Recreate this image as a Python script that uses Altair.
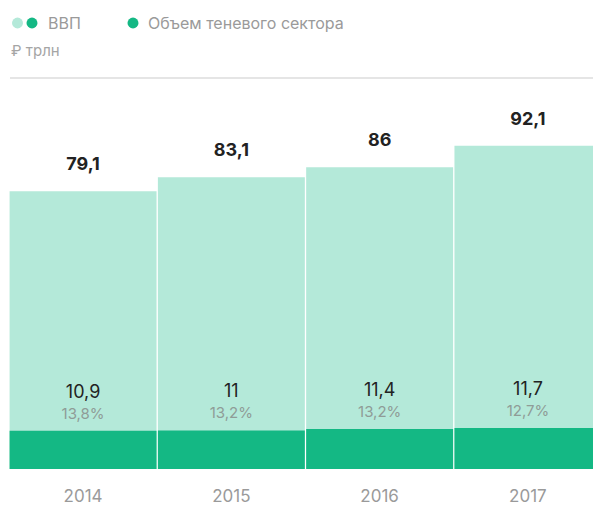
import altair as alt
import pandas as pd

years = ["2014", "2015", "2016", "2017"]
gdp = [79.1, 83.1, 86.0, 92.1]
shadow = [10.9, 11.0, 11.4, 11.7]
gdp_labels = ["79,1", "83,1", "86", "92,1"]
shadow_labels = ["10,9", "11", "11,4", "11,7"]
share_labels = ["13,8%", "13,2%", "13,2%", "12,7%"]

LIGHT = "#b4e9d9"
DARK = "#14b884"
FONT = "Inter"

df = pd.DataFrame({
    "year": years, "gdp": gdp, "shadow": shadow,
    "gdp_label": gdp_labels, "shadow_label": shadow_labels, "share_label": share_labels,
})

W, H = 584, 391
x = alt.X("year:N", title=None,
          scale=alt.Scale(range=[0, 593], paddingInner=0.009, paddingOuter=0.004),
          axis=alt.Axis(ticks=False, domain=False, labelAngle=0, labelPadding=19,
                        labelFontSize=17, labelColor="#9a9a9a", labelFont=FONT,
                        labelFontWeight="normal"))
yscale = alt.Scale(domain=[0, 111.4], nice=False, zero=True)

base = alt.Chart(df)
gdp_bar = base.mark_bar(color=LIGHT, clip=True).encode(
    x=x, y=alt.Y("gdp:Q", scale=yscale, axis=None))
sh_bar = base.mark_bar(color=DARK, clip=True).encode(
    x=x, y=alt.Y("shadow:Q", scale=yscale, axis=None))
gdp_txt = base.mark_text(font=FONT, fontSize=18, fontWeight="bold", color="#222222",
                         baseline="alphabetic", dy=-21).encode(
    x=x, y=alt.Y("gdp:Q", scale=yscale, axis=None), text="gdp_label:N")
sh_txt = base.mark_text(font=FONT, fontSize=18, color="#222222",
                        baseline="alphabetic", dy=-33).encode(
    x=x, y=alt.Y("shadow:Q", scale=yscale, axis=None), text="shadow_label:N")
share_txt = base.mark_text(font=FONT, fontSize=15, color="#8f9c97",
                           baseline="alphabetic", dy=-12).encode(
    x=x, y=alt.Y("shadow:Q", scale=yscale, axis=None), text="share_label:N")

deco = alt.Chart(alt.Data(values=[{}]))
top_rule = deco.mark_rule(color="#dcdcdc", strokeWidth=1.5).encode(
    x=alt.value(1), x2=alt.value(W), y=alt.value(0))
c1 = deco.mark_circle(color=LIGHT, size=120, opacity=1).encode(
    x=alt.value(8.5), y=alt.value(-55))
c2 = deco.mark_circle(color=DARK, size=120, opacity=1).encode(
    x=alt.value(23), y=alt.value(-55))
c3 = deco.mark_circle(color=DARK, size=120, opacity=1).encode(
    x=alt.value(124), y=alt.value(-55))
t1 = deco.mark_text(text="ВВП", font=FONT, fontSize=16, color="#9a9a9a",
                    align="left", baseline="middle").encode(
    x=alt.value(39), y=alt.value(-54))
t2 = deco.mark_text(text="Объем теневого сектора", font=FONT, fontSize=16, color="#9a9a9a",
                    align="left", baseline="middle").encode(
    x=alt.value(139), y=alt.value(-54))
t3 = deco.mark_text(text="₽ трлн", font=FONT, fontSize=15, color="#a5a5a5",
                    align="left", baseline="middle").encode(
    x=alt.value(2), y=alt.value(-27))

chart = alt.layer(gdp_bar, sh_bar, gdp_txt, sh_txt, share_txt,
                  top_rule, c1, c2, c3, t1, t2, t3).properties(
    width=W, height=H,
    background="white",
    autosize=alt.AutoSizeParams(type="none"),
    padding={"left": 9, "top": 78, "right": 0, "bottom": 37},
).configure_view(stroke=None, strokeWidth=0)

chart.save("out.html", embed_options={"renderer": "svg", "actions": False})
